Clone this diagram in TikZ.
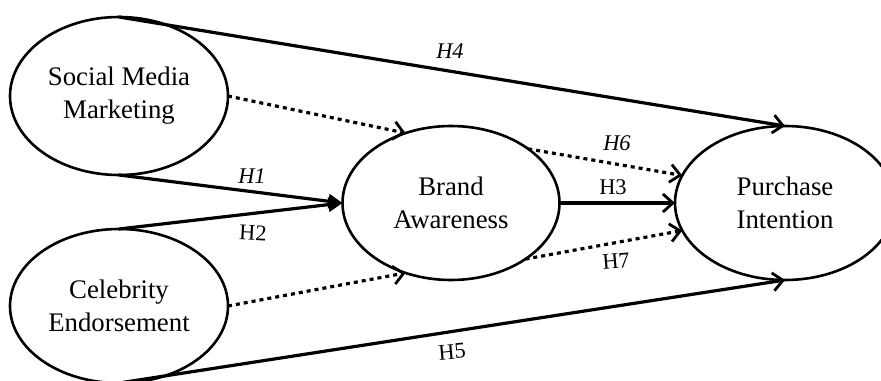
\documentclass[tikz,border=0pt]{standalone}
\usepackage{fontspec}
\setmainfont{Liberation Serif}
\usetikzlibrary{shapes.geometric,arrows.meta}
\begin{document}
\begin{tikzpicture}[x=0.5pt,y=-0.5pt,inner sep=0pt,outer sep=0pt,
construct/.style={draw,ellipse,line width=1.3pt,align=center,font=\fontsize{13.4}{16.5}\selectfont},
hyp/.style={line width=1.6pt,-{Straight Barb[length=5pt,width=9pt,line width=1.4pt]}},
hypfill/.style={line width=1.6pt,-{Triangle[length=7pt,width=7pt]}},
medpath/.style={line width=1.6pt,dash pattern=on 2pt off 2pt,-{Straight Barb[length=5pt,width=9pt,line width=1.4pt,line cap=butt]}},
hlabel/.style={font=\fontsize{11.2}{13}\selectfont}]
\useasboundingbox (0,0) rectangle (881,380);
\draw (119,96) node[construct,minimum width=109pt,minimum height=79pt] (SMM) {Social Media\\Marketing};
\draw (119,306) node[construct,minimum width=109pt,minimum height=77pt] (CE) {Celebrity\\Endorsement};
\draw (451,203) node[construct,minimum width=108.5pt,minimum height=77pt] (BA) {Brand\\Awareness};
\draw (785,203) node[construct,minimum width=110pt,minimum height=77pt] (PI) {Purchase\\Intention};

\draw[hyp] (SMM.north) -- (PI.north);
\draw[hypfill] (SMM.south) -- (BA.west);
\draw[hypfill] (CE.north) -- (BA.west);
\draw[hyp] (CE.south) -- (PI.south);
\draw[hyp] (BA.east) -- (PI.west);
\draw[medpath] (SMM.east) -- (BA.123);
\draw[medpath] (CE.east) -- (BA.237);
\draw[medpath] (BA.35) -- (PI.165);
\draw[medpath] (BA.323) -- (PI.195);

\node[hlabel] (lH4) at (450,51) {\textit{H4}};
\node[hlabel] (lH1) at (252,176) {\textit{H1}};
\node[hlabel,rotate=-3] (lH2) at (253,233) {H2};
\node[hlabel] (lH3) at (613,187) {H3};
\node[hlabel] (lH6) at (617,143) {\textit{H6}};
\node[hlabel,rotate=5] (lH7) at (616,261) {H7};
\node[hlabel,rotate=5] (lH5) at (452,352) {H5};
\end{tikzpicture}
\end{document}
